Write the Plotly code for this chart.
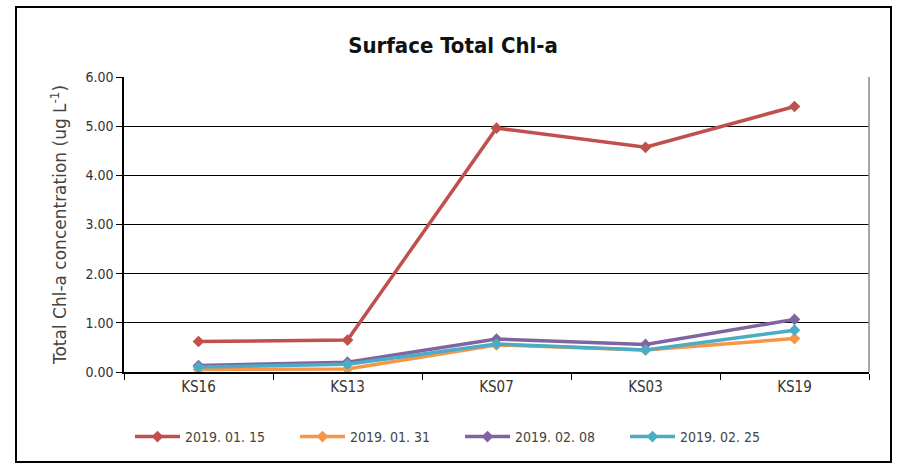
import plotly.graph_objects as go

stations = ["KS16", "KS13", "KS07", "KS03", "KS19"]
series_names = ["2019. 01. 15", "2019. 01. 31", "2019. 02. 08", "2019. 02. 25"]
v_0115 = [0.62, 0.65, 4.96, 4.57, 5.40]
v_0131 = [0.05, 0.06, 0.55, 0.45, 0.68]
v_0208 = [0.13, 0.20, 0.67, 0.56, 1.07]
v_0225 = [0.10, 0.16, 0.57, 0.45, 0.85]
colors = ["#C0504D", "#F79646", "#8064A2", "#4BACC6"]
y_ticks = [0, 1, 2, 3, 4, 5, 6]
y_ticklabels = ["0.00", "1.00", "2.00", "3.00", "4.00", "5.00", "6.00"]

W, H = 906, 469
L, R, T, B = 124, 37, 77, 97

fig = go.Figure()
for name, vals, c in zip(series_names, [v_0115, v_0131, v_0208, v_0225], colors):
    fig.add_trace(go.Scatter(
        x=stations, y=vals, name=name, mode="lines+markers",
        line=dict(color=c, width=3.5),
        marker=dict(symbol="diamond", size=9, color=c),
    ))

font_fam = "DejaVu Sans Condensed, DejaVu Sans"
pw = W - L - R
ph = H - T - B

fig.update_layout(
    width=W, height=H,
    margin=dict(l=L, r=R, t=T, b=B, autoexpand=False),
    paper_bgcolor="white", plot_bgcolor="white",
    title=dict(text="<b>Surface Total Chl-a</b>", x=453 / W, xref="container", xanchor="center",
               y=1 - 45 / H, yref="container", yanchor="middle",
               font=dict(family=font_fam, size=22, color="#111111")),
    font=dict(family=font_fam, size=13, color="#333333"),
    showlegend=True,
    legend=dict(orientation="h", x=(460 - L) / pw, xanchor="center", y=-(437 - (H - B)) / ph,
                yanchor="middle", font=dict(size=14, color="#444444"),
                bgcolor="rgba(0,0,0,0)",
                itemwidth=45, entrywidth=105, traceorder="normal"),
    xaxis=dict(showgrid=False, showline=True, linecolor="black", linewidth=1.5,
               ticks="outside", ticklen=6, tickcolor="black", tickson="boundaries",
               tickfont=dict(size=15, color="#333333"), range=[-0.5, 4.5]),
    yaxis=dict(range=[0, 6], tickvals=y_ticks, ticktext=y_ticklabels,
               showgrid=True, gridcolor="black", gridwidth=1,
               showline=True, linecolor="black", linewidth=1.5,
               ticks="outside", ticklen=6, tickcolor="black",
               zeroline=False,
               tickfont=dict(size=14, color="#333333"),
               title=dict(text="Total Chl-a concentration (ug L<sup>-1</sup>)",
                          font=dict(family="DejaVu Sans", size=17, color="#444444"),
                          standoff=14)),
)

# outer chart border
fig.add_shape(type="rect", xref="paper", yref="paper",
              x0=(16 - L) / pw, x1=(891 - L) / pw,
              y0=(H - B - 462) / ph, y1=(H - B - 7) / ph,
              line=dict(color="black", width=2), fillcolor="rgba(0,0,0,0)", layer="below")
# right edge of plot area
fig.add_shape(type="line", xref="paper", yref="paper", x0=1, x1=1, y0=0, y1=1,
              line=dict(color="#888888", width=1.5))

fig.write_html("out.html")
